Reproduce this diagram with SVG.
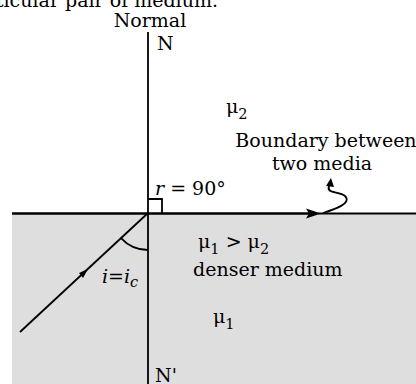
<svg xmlns="http://www.w3.org/2000/svg" width="416" height="384" viewBox="0 0 416 384">
<defs>
<style>
text{font-family:"DejaVu Serif","Liberation Serif",serif;font-size:19px;fill:#000}
.it{font-style:italic}
.sub{font-size:14.5px}
.ln{stroke:#000;fill:none;stroke-width:1.8}
</style>
</defs>
<rect width="416" height="384" fill="#fff"/>
<g id="caption"><text x="218" y="7" text-anchor="end">particular pair of medium.</text></g>
<g id="denser-medium"><rect x="12" y="213" width="404" height="171" fill="#dedede"/></g>
<g id="connectors">
<line class="ln" x1="148" y1="32" x2="148" y2="384"/>
<line x1="12" y1="213.5" x2="312" y2="213.5" stroke="#000" stroke-width="2.6"/>
<line x1="318" y1="213.5" x2="416" y2="213.5" stroke="#000" stroke-width="2"/>
<path d="M306,208.5 L321,213.5 L306,218.5 L309,213.5 z" fill="#000"/>
<line class="ln" x1="148" y1="213" x2="20" y2="332"/>
<path d="M88,269 L79,273 L83,278 z" fill="#000"/>
<path class="ln" d="M121,238.1 A37,37 0 0 0 148,250"/>
<path class="ln" stroke-width="1.4" d="M148,199 H162 V213"/>
<path class="ln" stroke-width="1.6" d="M323,213 C336,209 352,203 345,196 C339,191 326,194 329,186 L330,184"/>
<path d="M326,186 L331,178 L334,187 z" fill="#000"/>
</g>
<g id="normal-label"><text x="150" y="27" text-anchor="middle">Normal</text></g>
<g id="N"><text x="157" y="50">N</text></g>
<g id="N-prime"><text x="155" y="382">N'</text></g>
<g id="mu2"><text x="226" y="113">μ<tspan class="sub" dy="6">2</tspan></text></g>
<g id="boundary-label"><text x="326" y="147" text-anchor="middle">Boundary between</text><text x="322" y="170" text-anchor="middle">two media</text></g>
<g id="r-label"><text x="155" y="195"><tspan class="it">r</tspan> = 90°</text></g>
<g id="i-label"><text x="102" y="283" class="it">i=i<tspan class="sub" dy="4">c</tspan></text></g>
<g id="mu-compare"><text x="198" y="248">μ<tspan class="sub" dy="6">1</tspan><tspan dy="-6"> &gt; μ</tspan><tspan class="sub" dy="6">2</tspan></text><text x="193" y="276">denser medium</text></g>
<g id="mu1"><text x="213" y="323">μ<tspan class="sub" dy="6">1</tspan></text></g>
</svg>
